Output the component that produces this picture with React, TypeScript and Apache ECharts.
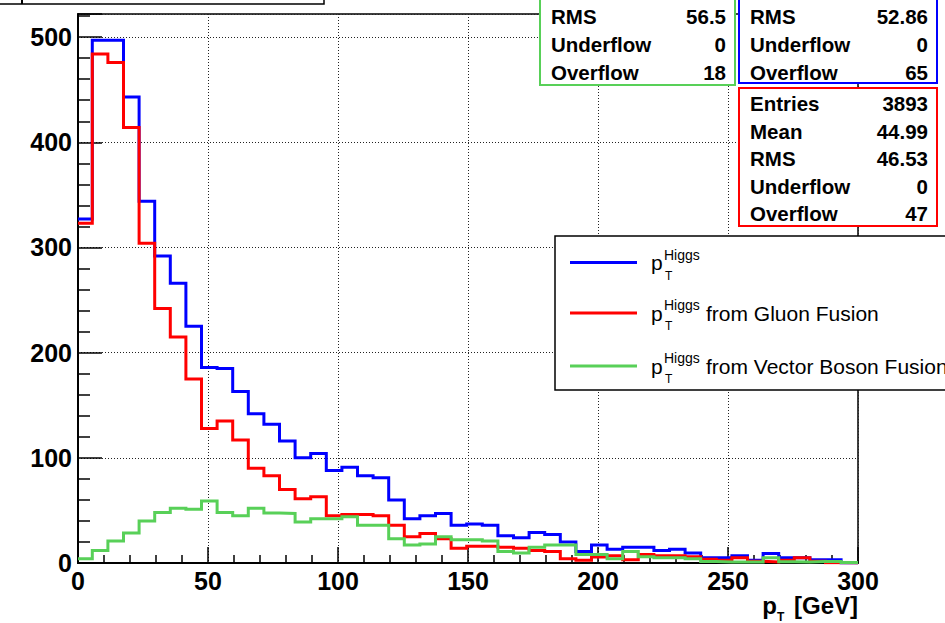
import React, { useEffect, useRef } from "react";
import * as echarts from "echarts";

// ---- data ----
const BIN_WIDTH = 6;
const FIRST_EDGE = -0.5;
const X_MIN = 0;
const X_MAX = 300;
const Y_MAX = 522;
const X_TICKS = [0, 50, 100, 150, 200, 250, 300];
const Y_TICKS = [0, 100, 200, 300, 400, 500];

const higgsAll = [
  327, 497, 497, 443, 344, 292, 266, 225, 186, 185,
  163, 142, 132, 116, 100, 104, 88, 91, 83, 81,
  60, 42, 45, 47, 36, 37, 36, 26, 24, 29,
  27, 20, 11, 17, 13, 15, 15, 12, 13, 9.5,
  5, 5, 7, 2.6, 9, 5, 5, 3, 3, 0,
];
const higgsGGF = [
  323, 484, 476, 414, 304, 242, 215, 175, 128, 135,
  117, 90, 83, 70, 61, 63, 45, 46, 46, 45,
  36, 25, 28, 23, 14, 16, 16, 15, 14, 12,
  11, 4, 2.6, 5.7, 7, 3.2, 8, 7, 7, 6,
  3.5, 2.6, 5, 1.6, 1, 2.6, 5, 1.6, 0.3, 0,
];
const higgsVBF = [
  4, 12, 21, 28.5, 40, 48, 52, 51, 59, 48,
  45, 52, 47.5, 47, 39, 42, 42, 44, 36, 36,
  23, 17, 18, 25, 22, 22, 21, 11, 9.5, 15,
  17, 17, 8, 8, 4, 11, 6, 5, 5, 4,
  1.5, 1, 1, 1, 5, 1.3, 1, 1.5, 1.5, 0.5,
];

const statsVBF: [string, string][] = [["RMS", "56.5"], ["Underflow", "0"], ["Overflow", "18"]];
const statsAll: [string, string][] = [["RMS", "52.86"], ["Underflow", "0"], ["Overflow", "65"]];
const statsGGF: [string, string][] = [
  ["Entries", "3893"], ["Mean", "44.99"], ["RMS", "46.53"], ["Underflow", "0"], ["Overflow", "47"],
];
const legendSuffixes = ["", "from Gluon Fusion", "from Vector Boson Fusion"];

const BLUE = "#0000ff";
const RED = "#ff0000";
const GREEN = "#58d058";
const FONT = "'Liberation Sans', Arial, Helvetica, sans-serif";

const N = higgsAll.length;
const edges = Array.from({ length: N + 1 }, (_, i) =>
  i === N ? X_MAX : Math.max(X_MIN, FIRST_EDGE + i * BIN_WIDTH)
);
const steps = (vals: number[]) =>
  vals.flatMap((v, i) => [[edges[i], v], [edges[i + 1], v]]);

function statBox(x: number, y: number, w: number, h: number, color: string, rows: [string, string][], rowY0: number, rowStep: number) {
  const els: any[] = [
    {
      type: "rect",
      z: 100,
      shape: { x, y, width: w, height: h },
      style: { fill: "#fff", stroke: color, lineWidth: 2 },
    },
  ];
  rows.forEach(([label, value], i) => {
    const ty = rowY0 + i * rowStep;
    els.push({
      type: "text", z: 101, x: x + 11, y: ty,
      style: { text: label, fill: "#000", font: `bold 20.5px ${FONT}`, align: "left", verticalAlign: "middle" },
    });
    els.push({
      type: "text", z: 101, x: x + w - 9, y: ty,
      style: { text: value, fill: "#000", font: `bold 20.5px ${FONT}`, align: "right", verticalAlign: "middle" },
    });
  });
  return els;
}

function legendBlock() {
  const colors = [BLUE, RED, GREEN];
  const rowsY = [262.5, 313, 366];
  const els: any[] = [
    {
      type: "rect", z: 100,
      shape: { x: 555, y: 236, width: 420, height: 154 },
      style: { fill: "#fff", stroke: "#000", lineWidth: 1.5 },
    },
  ];
  rowsY.forEach((ry, i) => {
    els.push({
      type: "line", z: 101,
      shape: { x1: 570, y1: ry, x2: 637, y2: ry },
      style: { stroke: colors[i], lineWidth: 3 },
    });
    els.push({
      type: "text", z: 101, x: 651, y: ry,
      style: { text: "p", fill: "#000", font: `21px ${FONT}`, align: "left", verticalAlign: "middle" },
    });
    els.push({
      type: "text", z: 101, x: 664, y: ry - 8,
      style: { text: "Higgs", fill: "#000", font: `14px ${FONT}`, align: "left", verticalAlign: "middle" },
    });
    els.push({
      type: "text", z: 101, x: 665, y: ry + 13,
      style: { text: "T", fill: "#000", font: `12px ${FONT}`, align: "left", verticalAlign: "middle" },
    });
    if (legendSuffixes[i]) {
      els.push({
        type: "text", z: 101, x: 706, y: ry,
        style: { text: legendSuffixes[i], fill: "#000", font: `21px ${FONT}`, align: "left", verticalAlign: "middle" },
      });
    }
  });
  return els;
}

export default function App() {
  const ref = useRef<HTMLDivElement>(null);

  useEffect(() => {
    if (!ref.current) return;
    const chart = echarts.init(ref.current, null, { renderer: "svg" });

    const axisText = { fontSize: 25, fontWeight: "bold" as const, color: "#000", fontFamily: FONT };
    const grid = { color: "#222", type: [1, 2], width: 1 };

    const graphic: any[] = [
      // cut-off title box
      {
        type: "rect", z: 100,
        shape: { x: -4, y: -20, width: 328, height: 24 },
        style: { fill: "#fff", stroke: "#000", lineWidth: 1.5 },
      },
      {
        type: "line", z: 101,
        shape: { x1: 22, y1: 0, x2: 22, y2: 4 },
        style: { stroke: "#000", lineWidth: 2 },
      },
      ...statBox(540, -10, 195, 95, GREEN, statsVBF, 16, 28),
      ...statBox(739, -10, 198, 93, BLUE, statsAll, 16, 28),
      ...statBox(739, 88, 198, 138, RED, statsGGF, 103.5, 27.5),
      ...legendBlock(),
      // x axis title p_T [GeV]
      {
        type: "text", z: 101, x: 858, y: 605,
        style: { text: "[GeV]", fill: "#000", font: `bold 24px ${FONT}`, align: "right", verticalAlign: "middle" },
      },
      {
        type: "text", z: 101, x: 777, y: 605,
        style: { text: "p", fill: "#000", font: `bold 24px ${FONT}`, align: "right", verticalAlign: "middle" },
      },
      {
        type: "text", z: 101, x: 777, y: 617,
        style: { text: "T", fill: "#000", font: `bold 12px ${FONT}`, align: "left", verticalAlign: "middle" },
      },
    ];

    chart.setOption({
      animation: false,
      backgroundColor: "#fff",
      grid: {
        left: 78, top: 14, width: 780, height: 549,
        show: true, borderColor: "#000", borderWidth: 1.5, backgroundColor: "transparent",
        containLabel: false,
      },
      xAxis: {
        type: "value", min: X_MIN, max: X_MAX, interval: 50,
        axisLine: { show: true, onZero: false, lineStyle: { color: "#000", width: 2 } },
        axisTick: { show: true, inside: true, length: 16, lineStyle: { color: "#000", width: 1.5 } },
        minorTick: { show: true, splitNumber: 5, length: 8, lineStyle: { color: "#000", width: 1.5 } },
        axisLabel: {
          ...axisText, margin: 5,
          formatter: (v: number) => (X_TICKS.includes(v) ? String(v) : ""),
        },
        splitLine: { show: true, lineStyle: grid },
        minorSplitLine: { show: false },
      },
      yAxis: {
        type: "value", min: 0, max: Y_MAX, interval: 100,
        axisLine: { show: true, onZero: false, lineStyle: { color: "#000", width: 2 } },
        axisTick: { show: true, inside: true, length: 24, lineStyle: { color: "#000", width: 1.5 } },
        minorTick: { show: true, splitNumber: 5, length: 12, lineStyle: { color: "#000", width: 1.5 } },
        axisLabel: {
          ...axisText, margin: 6,
          formatter: (v: number) => (Y_TICKS.includes(v) ? String(v) : ""),
        },
        splitLine: { show: true, lineStyle: grid },
      },
      series: [
        { name: "all", data: steps(higgsAll), color: BLUE, z: 3 },
        { name: "ggf", data: steps(higgsGGF), color: RED, z: 4 },
        { name: "vbf", data: steps(higgsVBF), color: GREEN, z: 5 },
      ].map((s) => ({
        type: "line",
        name: s.name,
        data: s.data,
        z: s.z,
        symbol: "none",
        showSymbol: false,
        silent: true,
        clip: true,
        lineStyle: { color: s.color, width: 3, join: "miter" },
      })),
      graphic,
    });

    return () => chart.dispose();
  }, []);

  return (
    <div
      ref={ref}
      style={{ position: "fixed", left: 0, top: 0, width: 945, height: 623, background: "#fff" }}
    />
  );
}
